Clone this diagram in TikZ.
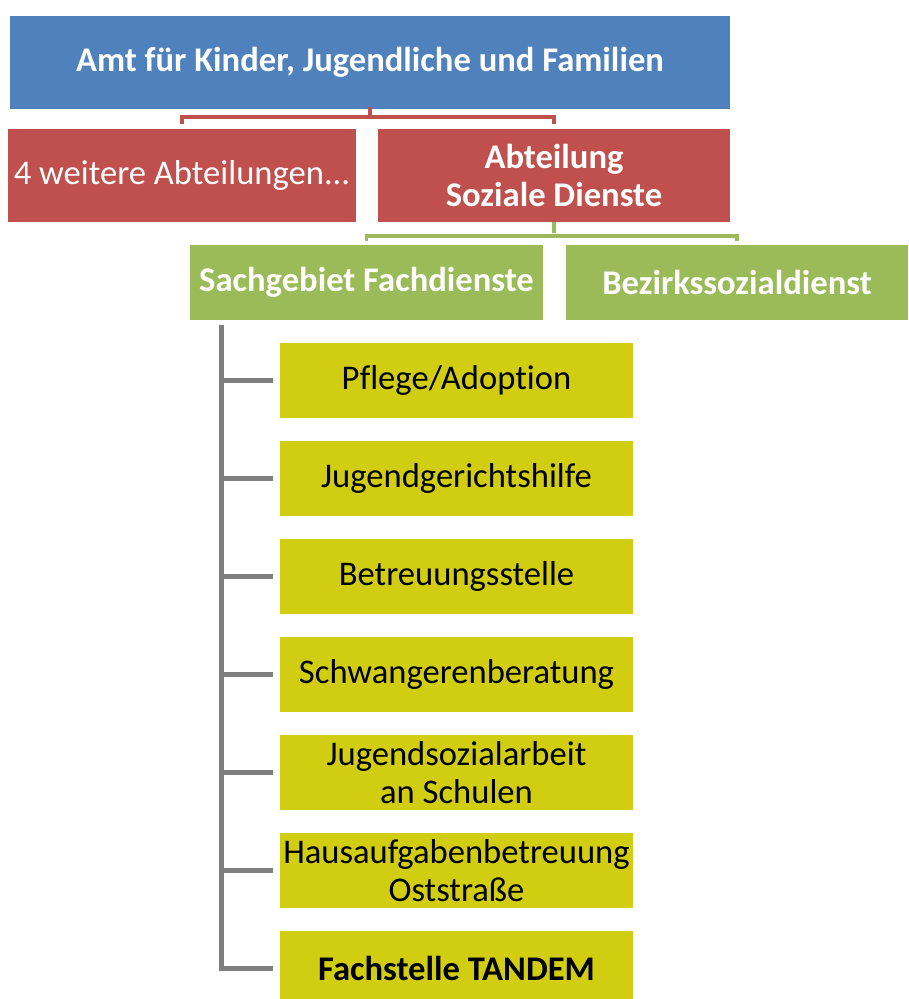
\documentclass[tikz,border=0pt]{standalone}
\usepackage{fontspec}
\setmainfont{Carlito}[Ligatures=NoCommon]
\usetikzlibrary{positioning}

\definecolor{amtblue}{HTML}{4F81BD}
\definecolor{abtred}{HTML}{C0504D}
\definecolor{sachgreen}{HTML}{9BBB59}
\definecolor{fachyellow}{HTML}{D1CD10}
\definecolor{treegrey}{HTML}{7F7F7F}

\begin{document}
\begin{tikzpicture}[
	x=1pt, y=-1pt,
	box/.style = {draw=none, inner sep=0pt, align=center,
		font=\fontsize{34.6}{37.5}\selectfont},
	amt/.style = {box, fill=amtblue, text=white,
		minimum width=720pt, minimum height=93pt,
		font=\fontsize{34.6}{37.5}\selectfont\bfseries},
	abt/.style = {box, fill=abtred, text=white,
		minimum height=93pt},
	sach/.style = {box, fill=sachgreen, text=white,
		minimum height=75pt, font=\fontsize{34.6}{37.5}\selectfont\bfseries},
	fach/.style = {box, fill=fachyellow, text=black,
		minimum width=353pt, minimum height=75pt},
	bracket/.style = {line width=3.5pt},
	tree/.style = {line width=5pt, draw=treegrey},
	]
	\useasboundingbox (0,0) rectangle (908,999);
	% boxes
	\node[amt] (amt) at (370,62) {Amt für Kinder, Jugendliche und Familien};
	\node[abt, minimum width=348pt] (weitere) at (182,175.5) {4 weitere Abteilungen...};
	\node[abt, minimum width=352pt, font=\fontsize{34.6}{37.5}\selectfont\bfseries]
		(soziale) at (554,175.5) {Abteilung\\Soziale Dienste};
	\node[sach, minimum width=353pt] (fachdienste) at (366.5,282.5) {Sachgebiet Fachdienste};
	\node[sach, minimum width=342pt] (bsd) at (737,282.5) {Bezirkssozialdienst};
	\foreach \t [count=\i] in {Pflege/Adoption, Jugendgerichtshilfe, Betreuungsstelle,
		Schwangerenberatung, {Jugendsozialarbeit\\an Schulen},
		{Hausaufgabenbetreuung\\Oststraße}, \textbf{Fachstelle TANDEM}}
		\node[fach] (f\i) at (456.5,282.5+98*\i) {\t};
	% brackets
	\draw[bracket, abtred] ([yshift=1.5pt]amt.south) -- ++(0,10);
	\draw[bracket, abtred] ([yshift=5pt]weitere.north) -- ++(0,-7) -| ([yshift=5pt]soziale.north);
	\draw[bracket, sachgreen] (soziale.south) -- ++(0,11);
	\draw[bracket, sachgreen] ([yshift=4pt]fachdienste.north) -- ++(0,-5) -| ([yshift=4pt]bsd.north);
	% tree
	\draw[tree] ([xshift=32pt,yshift=-5pt]fachdienste.south west) |- ([xshift=-7pt]f7.west);
	\foreach \i in {1,...,6}
		\draw[tree] ([xshift=-7pt]f\i.west) -- ++(-51,0);
\end{tikzpicture}
\end{document}
